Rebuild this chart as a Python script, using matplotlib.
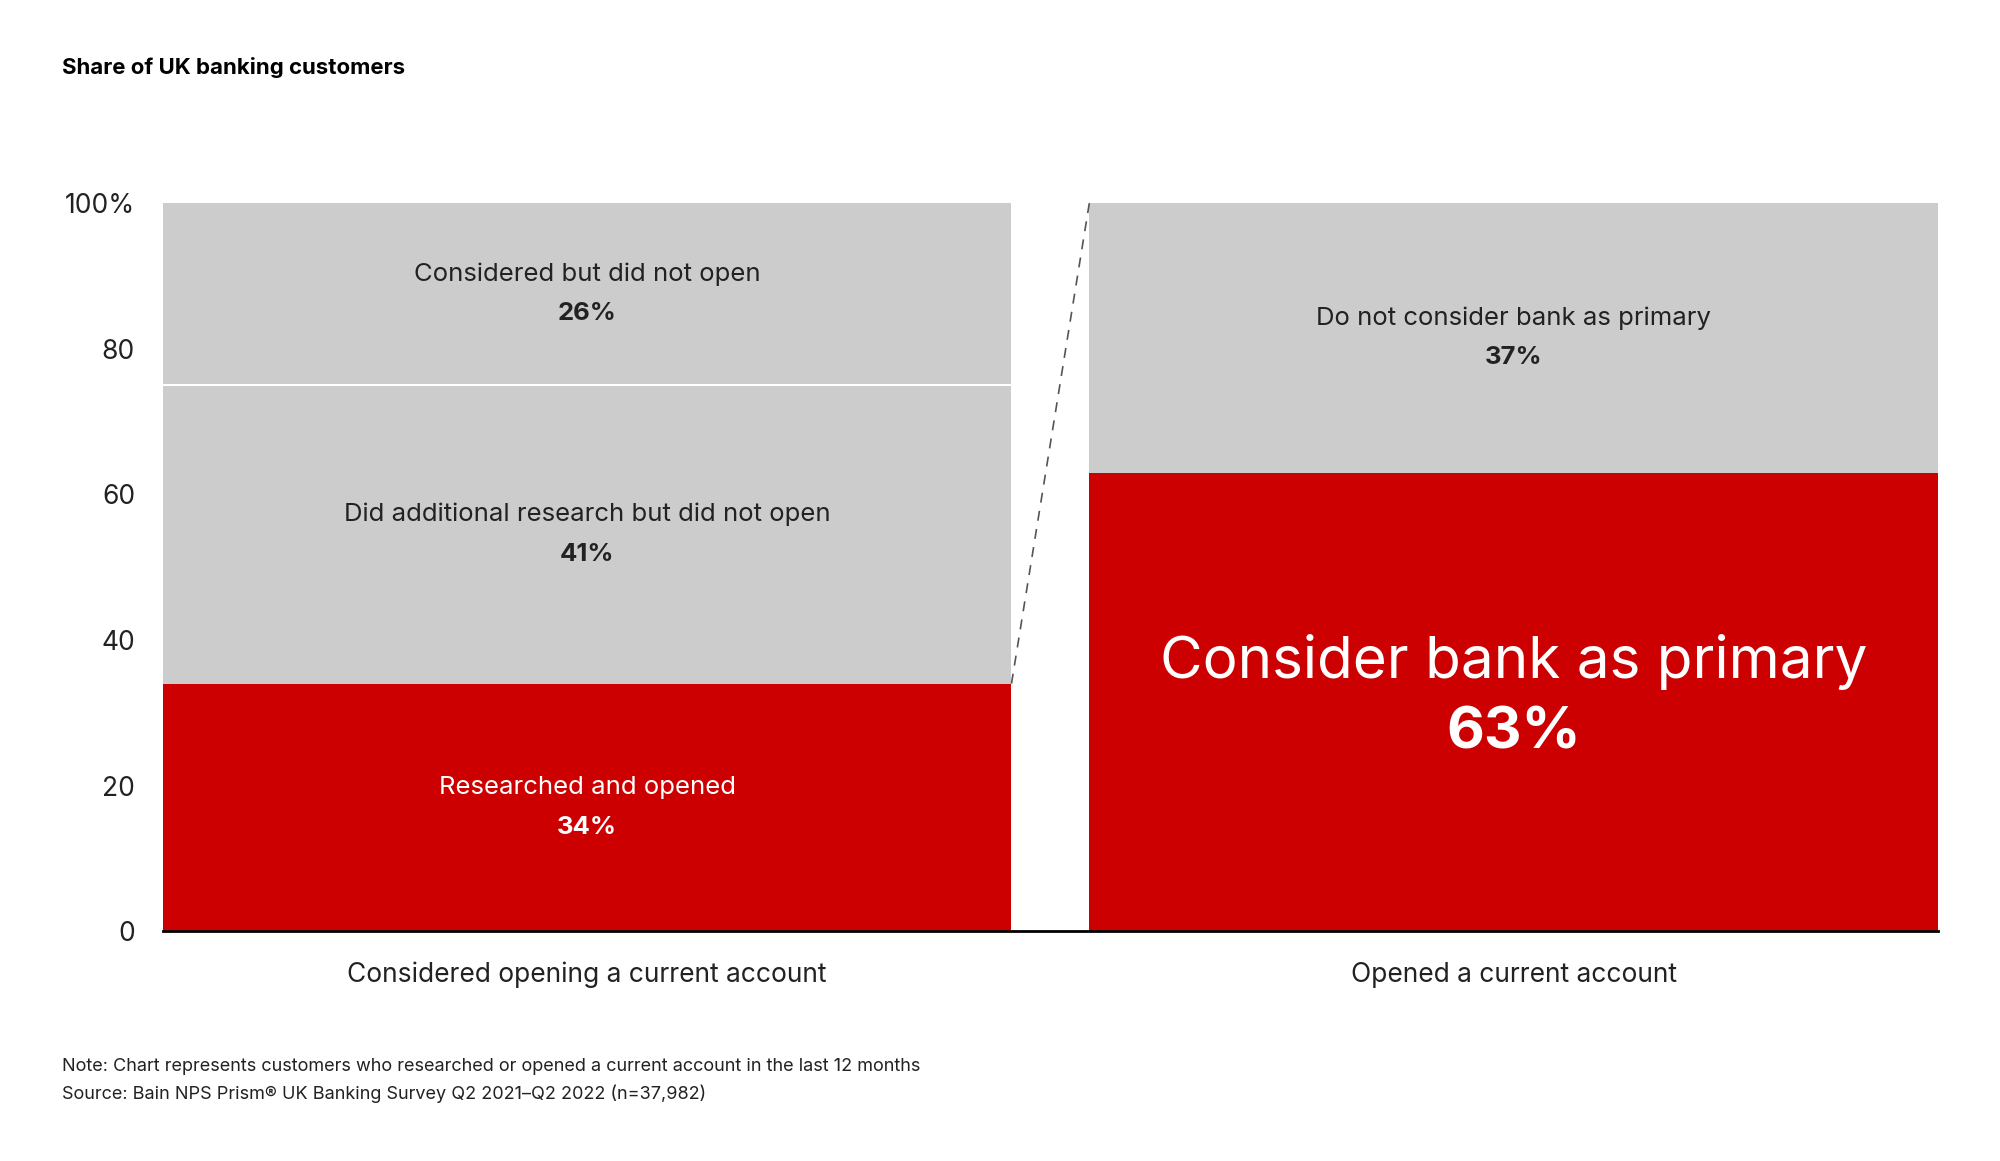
import matplotlib.pyplot as plt

plt.rcParams['font.family'] = ['Inter', 'DejaVu Sans']

# Data
categories = ["Considered opening a current account", "Opened a current account"]
left_labels = ["Researched and opened", "Did additional research but did not open", "Considered but did not open"]
left_values = [34, 41, 26]
right_labels = ["Consider bank as primary", "Do not consider bank as primary"]
right_values = [63, 37]

RED = '#cc0000'
GREY = '#cccccc'

fig = plt.figure(figsize=(20, 11.61), dpi=100)
ax = fig.add_axes([0.0814, 0.198, 0.8876, 0.627])

w = 0.916
x0, x1 = 0, 1

# left stacked bar
bottom = 0
colors_left = [RED, GREY, GREY]
for lab, v, c in zip(left_labels, left_values, colors_left):
    ax.bar(x0, v, width=w, bottom=bottom, color=c, align='edge', edgecolor='none')
    mid = bottom + min(v, 100 - bottom) / 2
    tc = 'white' if c == RED else '#222222'
    ax.text(x0 + w / 2, mid + 2.7, lab, ha='center', va='center', fontsize=18.5, color=tc)
    ax.text(x0 + w / 2, mid - 2.7, f"{v}%", ha='center', va='center', fontsize=18.5,
            color=tc, fontweight='bold')
    bottom += v
# white separator between grey segments
sep = left_values[0] + left_values[1]
ax.plot([x0, x0 + w], [sep, sep], color='white', lw=1.5)

# right stacked bar
ax.bar(x1, right_values[0], width=w, color=RED, align='edge', edgecolor='none')
ax.bar(x1, right_values[1], width=w, bottom=right_values[0], color=GREY, align='edge', edgecolor='none')
ax.text(x1 + w / 2, right_values[0] / 2 + 5.5, right_labels[0], ha='center', va='center',
        fontsize=42, color='white')
ax.text(x1 + w / 2, right_values[0] / 2 - 4.3, f"{right_values[0]}%", ha='center', va='center',
        fontsize=42, color='white', fontweight='bold')
mid = right_values[0] + right_values[1] / 2
ax.text(x1 + w / 2, mid + 2.7, right_labels[1], ha='center', va='center', fontsize=18.5, color='#222222')
ax.text(x1 + w / 2, mid - 2.7, f"{right_values[1]}%", ha='center', va='center', fontsize=18.5,
        color='#222222', fontweight='bold')

# dashed connector
ax.plot([x0 + w, x1], [left_values[0], 100], color='#555555', lw=1.2, ls=(0, (6, 5)))

ax.set_xlim(0, 1 + w)
ax.set_ylim(0, 100)
ax.set_yticks([0, 20, 40, 60, 80, 100])
ax.set_yticklabels(['0', '20', '40', '60', '80', '100%'], fontsize=19, color='#222222')
ax.tick_params(axis='y', length=0, pad=20)
ax.set_xticks([x0 + w / 2, x1 + w / 2])
ax.set_xticklabels(categories, fontsize=19, color='#222222')
ax.tick_params(axis='x', length=0, pad=22)
for s in ['top', 'right', 'left']:
    ax.spines[s].set_visible(False)
ax.spines['bottom'].set_linewidth(2)
ax.spines['bottom'].set_color('black')

fig.text(0.031, 0.942, "Share of UK banking customers", fontsize=16, fontweight='bold', va='center')
fig.text(0.031, 0.081, "Note: Chart represents customers who researched or opened a current account in the last 12 months",
         fontsize=13, color='#222222', va='center')
fig.text(0.031, 0.058, "Source: Bain NPS Prism\u00ae UK Banking Survey Q2 2021\u2013Q2 2022 (n=37,982)",
         fontsize=13, color='#222222', va='center')

fig.savefig("out.png", dpi=100)
